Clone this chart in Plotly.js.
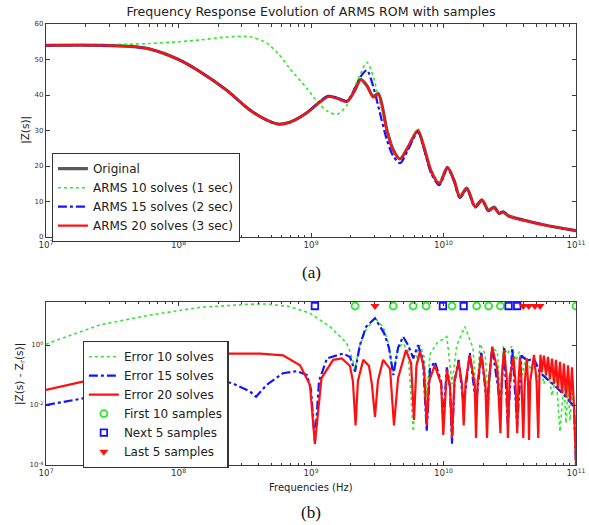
<!DOCTYPE html>
<html>
<head>
<meta charset="utf-8">
<script src="https://cdn.plot.ly/plotly-3.0.1.min.js"></script>
<style>html,body{margin:0;padding:0;background:#fff;}#chart{width:589px;height:525px;}</style>
</head>
<body>
<div id="chart"></div>
<script>
// ---------- (a) frequency response |Z(s)| ----------
const freqTop = [1e7, 2.6e7, 4.3e7, 6e7, 1e8, 1.45e8, 2.3e8, 3.45e8, 4.6e8, 5.7e8, 6.9e8, 9.3e8,
  1.17e9, 1.35e9, 1.58e9, 1.87e9, 2.14e9, 2.37e9, 2.64e9, 2.95e9, 3.22e9, 3.73e9, 4.15e9, 4.7e9,
  5.4e9, 6.4e9, 7.1e9, 8.1e9, 9.3e9, 1.07e10, 1.2e10, 1.33e10, 1.5e10, 1.73e10, 1.95e10, 2.18e10,
  2.41e10, 2.63e10, 2.83e10, 3.08e10, 4.0e10, 6.3e10, 1e11];
const zOriginal = [54.0, 54.0, 53.7, 53.0, 50.0, 46.6, 41.4, 35.8, 33.0, 31.8, 32.3, 35.0,
  38.1, 39.6, 39.1, 38.2, 41.3, 44.4, 42.6, 39.6, 40.4, 30.4, 24.8, 22.0,
  25.3, 30.0, 25.5, 18.4, 15.1, 19.6, 16.0, 11.3, 13.8, 8.6, 10.5, 7.6,
  8.4, 6.7, 7.1, 6.0, 4.8, 3.1, 1.8];
const zArms10 = [54.0, 54.2, 54.3, 54.5, 55.0, 55.5, 56.3, 56.4, 54.7, 51.5, 47.5, 41.9,
  37.2, 35.3, 34.6, 37.2, 42.4, 46.1, 49.2, 45.2, 39.5, 30.8, 24.8, 22.3,
  25.6, 30.5, 25.8, 18.6, 15.4, 19.8, 16.0, 11.5, 13.4, 8.8, 10.1, 7.8,
  8.0, 6.8, 6.8, 6.0, 4.7, 3.1, 1.8];
const zArms15 = [54.0, 54.0, 53.7, 53.0, 50.0, 46.6, 41.4, 35.8, 33.0, 31.8, 32.3, 35.0,
  38.2, 39.7, 39.2, 38.3, 41.8, 45.2, 47.0, 42.4, 36.8, 27.5, 23.0, 20.8,
  24.6, 29.6, 25.0, 17.8, 14.6, 19.4, 15.8, 11.0, 13.5, 8.3, 10.2, 7.3,
  8.2, 6.6, 7.1, 5.9, 4.8, 3.1, 1.8];
const zArms20 = [54.0, 54.0, 53.7, 53.0, 50.0, 46.6, 41.4, 35.8, 33.0, 31.8, 32.3, 35.0,
  38.0, 39.5, 39.0, 38.1, 41.5, 44.3, 42.8, 39.3, 40.2, 30.1, 24.5, 22.0,
  25.4, 30.0, 25.4, 18.4, 15.0, 19.6, 16.0, 11.2, 13.7, 8.5, 10.4, 7.5,
  8.2, 6.6, 7.0, 5.9, 4.7, 3.1, 1.8];
const yTicksTop = [0, 10, 20, 30, 40, 50, 60];

// ---------- (b) error |Z(s) - Zr(s)| ----------
const freqE10 = [1e7, 2.56e7, 6.1e7, 1.45e8, 3.47e8, 4.63e8, 6.95e8, 9.82e8, 1.39e9, 1.86e9, 2.0e9,
  2.15e9, 2.3e9, 2.6e9, 3.04e9, 3.5e9, 3.81e9, 4.18e9, 4.54e9, 4.95e9, 5.4e9, 5.92e9, 6.31e9,
  6.65e9, 7.13e9, 7.47e9, 7.91e9, 8.89e9, 1.06e10, 1.16e10, 1.26e10, 1.45e10, 1.67e10, 1.78e10,
  1.88e10, 2.06e10, 2.19e10, 2.32e10, 2.55e10, 2.69e10, 2.83e10, 3.03e10, 3.27e10, 3.52e10,
  3.73e10, 3.96e10, 4.16e10, 4.57e10, 4.82e10, 5.08e10, 5.35e10, 5.73e10, 6.15e10, 6.59e10,
  7.06e10, 7.57e10, 8.11e10, 8.41e10, 8.71e10, 9.02e10, 9.33e10, 9.66e10, 1e11];
const errE10 = [1.07, 4.7, 10, 18, 23, 23.4, 19, 11.5, 4.1, 1.15, 0.5,
  0.16, 0.8, 3.2, 8, 4, 1.26, 0.125, 0.8, 1.15, 0.63, 0.0013, 0.5,
  1.0, 0.4, 0.019, 0.5, 1.15, 1.9, 0.05, 1.0, 4.1, 0.8, 0.01,
  1.1, 0.5, 0.01, 0.8, 0.6, 0.01, 0.9, 0.5, 0.9, 0.3,
  0.6, 0.1, 0.4, 0.15, 0.35, 0.05, 0.25, 0.05, 0.18, 0.02,
  0.1, 0.0013, 0.06, 0.0025, 0.04, 0.003, 0.025, 0.012, 0.0001];

const freqE15 = [1e7, 2.56e7, 6.1e7, 1.45e8, 2.58e8, 3.47e8, 3.85e8, 4.63e8, 6.15e8, 7.84e8, 9.33e8,
  1.0e9, 1.07e9, 1.15e9, 1.32e9, 1.75e9, 1.97e9, 2.15e9, 2.34e9, 2.6e9, 3.04e9, 3.56e9, 3.88e9,
  4.18e9, 4.54e9, 4.95e9, 5.4e9, 5.92e9, 6.42e9, 7.0e9, 7.47e9, 7.91e9, 8.6e9, 9.6e9, 9.96e9,
  1.06e10, 1.12e10, 1.16e10, 1.21e10, 1.3e10, 1.42e10, 1.58e10, 1.76e10, 1.93e10, 2.13e10,
  2.33e10, 2.69e10, 2.87e10, 3.06e10, 3.3e10, 3.6e10, 3.88e10, 4.25e10, 4.82e10, 5.35e10,
  5.94e10, 6.59e10, 7.31e10, 8.11e10, 9.02e10, 9.66e10, 1e11];
const errE15 = [0.01, 0.021, 0.047, 0.1, 0.052, 0.028, 0.019, 0.047, 0.115, 0.135, 0.1,
  0.032, 0.0006, 0.063, 0.36, 0.52, 0.4, 0.13, 1.0, 4.0, 7.8, 2.5, 0.8,
  0.1, 0.8, 1.9, 1.0, 0.36, 1.0, 0.32, 0.0013, 0.16, 0.28, 0.06, 0.003,
  0.18, 0.04, 0.0005, 0.06, 0.32, 0.01, 0.55, 0.01, 0.6, 0.01,
  0.87, 0.01, 0.8, 0.002, 0.8, 0.002, 0.45, 0.3, 0.35, 0.12,
  0.08, 0.05, 0.035, 0.022, 0.013, 0.009, 0.0001];

const freqE20 = [1e7, 1.89e7, 6.1e7, 1.45e8, 2.31e8, 4.12e8, 6.15e8, 8.26e8, 9.82e8, 1.07e9, 1.2e9,
  1.47e9, 1.71e9, 1.97e9, 2.07e9, 2.17e9, 2.26e9, 2.48e9, 2.74e9, 2.88e9, 3.04e9, 3.2e9, 3.5e9,
  3.95e9, 4.23e9, 4.54e9, 5.21e9, 5.69e9, 5.99e9, 6.25e9, 6.65e9, 7.13e9, 7.47e9, 7.78e9, 8.6e9,
  9.6e9, 9.96e9, 1.06e10, 1.12e10, 1.16e10, 1.21e10, 1.3e10, 1.38e10, 1.42e10, 1.47e10, 1.58e10,
  1.72e10, 1.76e10, 1.81e10, 1.93e10, 2.07e10, 2.13e10, 2.2e10, 2.33e10, 2.55e10, 2.69e10, 2.76e10,
  2.87e10, 3.0e10, 3.06e10, 3.16e10, 3.37e10, 3.49e10, 3.6e10, 3.68e10, 3.78e10, 3.88e10, 4.0e10,
  4.11e10, 4.25e10, 4.35e10, 4.42e10, 4.51e10, 4.82e10, 5.04e10, 5.19e10, 5.3e10, 5.4e10,
  5.53e10, 5.73e10, 5.94e10, 6.15e10, 6.37e10, 6.59e10, 6.82e10, 7.06e10, 7.31e10, 7.57e10,
  7.84e10, 8.11e10, 8.41e10, 8.71e10, 9.02e10, 9.33e10, 9.66e10, 1e11];
const errE20 = [0.032, 0.06, 0.2, 0.45, 0.52, 0.52, 0.45, 0.21, 0.047, 0.0005, 0.079,
  0.32, 0.36, 0.2, 0.063, 0.0021, 0.063, 0.32, 0.2, 0.05, 0.004, 0.063, 0.32,
  0.16, 0.0021, 0.079, 0.68, 0.25, 0.0032, 0.2, 0.63, 0.16, 0.0021, 0.063, 0.21,
  0.05, 0.001, 0.15, 0.04, 0.0008, 0.06, 0.275, 0.05, 0.0021, 0.06, 0.47,
  0.05, 0.0008, 0.06, 0.47, 0.05, 0.0008, 0.06, 0.87, 0.15, 0.00115, 0.1,
  0.68, 0.08, 0.0008, 0.08, 0.4, 0.06, 0.00115, 0.06, 0.4, 0.06, 0.0008,
  0.06, 0.36, 0.05, 0.00068, 0.06, 0.47, 0.06, 0.0008, 0.1, 0.47,
  0.126, 0.44, 0.1, 0.4, 0.071, 0.355, 0.05, 0.32, 0.035, 0.275,
  0.025, 0.24, 0.018, 0.21, 0.0126, 0.18, 0.008, 0.0001];
const yTicksErr = [1e-4, 1e-2, 1];
const yTickTextErr = ['10<sup>-4</sup>', '10<sup>-2</sup>', '10<sup>0</sup>'];

// sample points (marker row near top of panel b)
const firstSamplesF = [2.15e9, 4.17e9, 5.9e9, 7.4e9, 1.16e10, 1.78e10, 2.19e10, 2.69e10, 1e11];
const firstSamplesY = [20, 20, 20, 20, 20, 20, 20, 20, 20];
const nextSamplesF = [1.07e9, 9.9e9, 1.42e10, 3.1e10, 3.6e10];
const nextSamplesY = [20, 20, 20, 20, 20];
const lastSamplesF = [3.04e9, 4.0e10, 4.4e10, 4.9e10, 5.35e10];
const lastSamplesY = [20, 20, 20, 20, 20];

const cGray = '#5a5a5a', cGreen = '#2ee82e', cBlue = '#1414ff', cRed = '#ff1010';
const axCol = '#3a3a3a';
const sans = 'DejaVu Sans, Verdana, sans-serif';
const serif = 'Liberation Serif, Times New Roman, serif';

const traces = [
  {x: freqTop, y: zOriginal, name: 'Original', mode: 'lines', xaxis: 'x', yaxis: 'y', legend: 'legend',
   line: {color: cGray, width: 3.2, shape: 'spline', smoothing: 0.8}},
  {x: freqTop, y: zArms10, name: 'ARMS 10 solves (1 sec)', mode: 'lines', xaxis: 'x', yaxis: 'y', legend: 'legend',
   line: {color: cGreen, width: 1.6, dash: 'dot', shape: 'spline', smoothing: 0.8}},
  {x: freqTop, y: zArms15, name: 'ARMS 15 solves (2 sec)', mode: 'lines', xaxis: 'x', yaxis: 'y', legend: 'legend',
   line: {color: cBlue, width: 2.2, dash: 'dashdot', shape: 'spline', smoothing: 0.8}},
  {x: freqTop, y: zArms20, name: 'ARMS 20 solves (3 sec)', mode: 'lines', xaxis: 'x', yaxis: 'y', legend: 'legend',
   line: {color: cRed, width: 2.2, shape: 'spline', smoothing: 0.8}},

  {x: freqE10, y: errE10, name: 'Error 10 solves', mode: 'lines', xaxis: 'x2', yaxis: 'y2', legend: 'legend2',
   line: {color: cGreen, width: 1.6, dash: 'dot'}},
  {x: freqE15, y: errE15, name: 'Error 15 solves', mode: 'lines', xaxis: 'x2', yaxis: 'y2', legend: 'legend2',
   line: {color: cBlue, width: 2.2, dash: 'dashdot'}},
  {x: freqE20, y: errE20, name: 'Error 20 solves', mode: 'lines', xaxis: 'x2', yaxis: 'y2', legend: 'legend2',
   line: {color: cRed, width: 2.2}},
  {x: firstSamplesF, y: firstSamplesY, name: 'First 10 samples', mode: 'markers', xaxis: 'x2', yaxis: 'y2', legend: 'legend2',
   marker: {symbol: 'circle-open', size: 7, color: cGreen, line: {width: 1.8, color: cGreen}}},
  {x: nextSamplesF, y: nextSamplesY, name: 'Next 5 samples', mode: 'markers', xaxis: 'x2', yaxis: 'y2', legend: 'legend2',
   marker: {symbol: 'square-open', size: 6.5, color: cBlue, line: {width: 1.8, color: cBlue}}},
  {x: lastSamplesF, y: lastSamplesY, name: 'Last 5 samples', mode: 'markers', xaxis: 'x2', yaxis: 'y2', legend: 'legend2',
   marker: {symbol: 'triangle-down', size: 8, color: cRed, line: {width: 0}}}
];

const tickFont = {family: sans, size: 7, color: '#333'};
function logX(anchor, domain) {
  return {type: 'log', range: [7, 11], domain: domain, anchor: anchor, dtick: 1, exponentformat: 'power',
    showline: true, mirror: 'ticks', linecolor: axCol, linewidth: 1.2, ticks: 'inside', ticklen: 4,
    tickcolor: axCol, tickwidth: 1, tickfont: tickFont, showgrid: false, zeroline: false,
    minor: {ticks: 'inside', ticklen: 2.5, dtick: 'D1', tickcolor: axCol, tickwidth: 1, showgrid: false}};
}

const layout = {
  width: 589, height: 525,
  margin: {l: 46, r: 13, t: 24, b: 60},
  paper_bgcolor: '#fff', plot_bgcolor: '#fff',
  font: {family: sans, color: '#222'},
  title: {text: 'Frequency Response Evolution of ARMS ROM with samples', x: 0.5, xref: 'paper',
          y: 0.977, yanchor: 'middle', font: {family: sans, size: 12.6, color: '#222'}},
  showlegend: true,
  xaxis: logX('y', [0, 1]),
  yaxis: {range: [0, 60], domain: [0.517, 1], anchor: 'x', tickmode: 'array', tickvals: yTicksTop,
          showline: true, mirror: 'ticks',
          linecolor: axCol, linewidth: 1.2, ticks: 'inside', ticklen: 4, tickcolor: axCol, tickfont: tickFont,
          showgrid: false, zeroline: false},
  xaxis2: logX('y2', [0, 1]),
  yaxis2: {type: 'log', range: [-4, 1.44], domain: [0, 0.370], anchor: 'x2', tickmode: 'array',
           tickvals: yTicksErr, ticktext: yTickTextErr, showline: true, mirror: 'ticks', linecolor: axCol, linewidth: 1.2,
           ticks: 'inside', ticklen: 4, tickcolor: axCol, tickfont: tickFont, showgrid: false, zeroline: false},
  legend: {x: 0.0108, y: 0.7075, xanchor: 'left', yanchor: 'top', bgcolor: '#fff', bordercolor: '#333',
           borderwidth: 1.2, font: {family: sans, size: 12, color: '#222'}, itemwidth: 30, tracegroupgap: 0},
  legend2: {x: 0.0692, y: 0.2812, xanchor: 'left', yanchor: 'top', bgcolor: '#fff', bordercolor: '#333',
            borderwidth: 1.2, font: {family: sans, size: 12, color: '#222'}, itemwidth: 30, tracegroupgap: 0},
  annotations: [
    {text: '|Z(s)|', xref: 'paper', yref: 'paper', x: -0.0377, y: 0.760, textangle: -90, showarrow: false,
     xanchor: 'center', yanchor: 'middle', font: {family: sans, size: 10.5, color: '#222'}},
    {text: '|Z(s) - Z<sub>r</sub>(s)|', xref: 'paper', yref: 'paper', x: -0.05, y: 0.205, textangle: -90,
     showarrow: false, xanchor: 'center', yanchor: 'middle', font: {family: sans, size: 10.5, color: '#222'}},
    {text: 'Frequencies (Hz)', xref: 'paper', yref: 'paper', x: 0.5, y: -0.052, showarrow: false,
     xanchor: 'center', yanchor: 'middle', font: {family: sans, size: 10, color: '#222'}},
    {text: '(a)', xref: 'paper', yref: 'paper', x: 0.5, y: 0.4376, showarrow: false,
     xanchor: 'center', yanchor: 'middle', font: {family: serif, size: 17, color: '#111'}},
    {text: '(b)', xref: 'paper', yref: 'paper', x: 0.5, y: -0.1066, showarrow: false,
     xanchor: 'center', yanchor: 'middle', font: {family: serif, size: 17, color: '#111'}}
  ]
};

Plotly.newPlot('chart', traces, layout, {displayModeBar: false, staticPlot: true});
</script>
</body>
</html>
